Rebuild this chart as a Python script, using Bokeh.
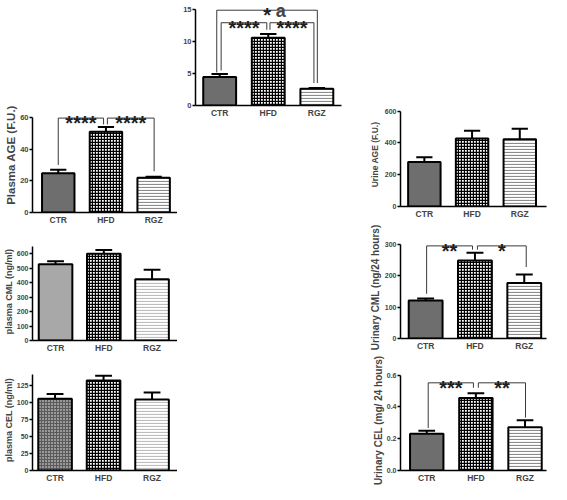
import math
from bokeh.plotting import figure
from bokeh.layouts import row, column
from bokeh.models import Spacer, FixedTicker, NumeralTickFormatter, Label, Range1d
from bokeh.core.properties import value
from bokeh.embed import file_html
from bokeh.resources import INLINE

# ---------------- data ----------------
categories = ["CTR", "HFD", "RGZ"]
xpos = [1, 2, 3]

a_mean = [4.45, 10.55, 2.6]
a_err = [0.45, 0.6, 0.12]
b_mean = [24.8, 51.0, 22.0]
b_err = [2.2, 3.0, 0.6]
c_mean = [528, 600, 424]
c_err = [20, 26, 65]
d_mean = [106, 133, 105]
d_err = [7, 7, 10]
e_mean = [280, 428, 423]
e_err = [30, 48, 65]
f_mean = [121, 248, 176]
f_err = [6, 24, 27]
g_mean = [0.232, 0.456, 0.272]
g_err = [0.018, 0.03, 0.045]

a_ticks = [0, 5, 10, 15]
b_ticks = [0, 20, 40, 60]
c_ticks = [0, 100, 200, 300, 400, 500, 600]
d_ticks = [0, 25, 50, 75, 100, 125]
e_ticks = [0, 200, 400, 600]
f_ticks = [0, 100, 200, 300]
g_ticks = [0.0, 0.2, 0.4, 0.6]

a_ylabel = "AOPP (µmol/l)"
b_ylabel = "Plasma AGE (F.U.)"
c_ylabel = "plasma CML (ng/ml)"
d_ylabel = "plasma CEL (ng/ml)"
e_ylabel = "Urine AGE (F.U.)"
f_ylabel = "Urinary CML  (ng/24 hours)"
g_ylabel = "Urinary CEL  (mg/ 24 hours)"

# significance: (group i, group j, stars, bracket level, leg end at i, leg end at j)
a_sig = [(0, 2, "*", 14.85, 5.15, 3.5), (0, 1, "****", 12.9, 5.45, 11.8), (1, 2, "****", 12.9, 11.8, 3.5)]
b_sig = [(0, 1, "****", 59.6, 30, 55.6), (1, 2, "****", 59.6, 55.6, 26)]
f_sig = [(0, 1, "**", 294, 142, 282), (1, 2, "*", 294, 282, 227)]
g_sig = [(0, 1, "***", 0.552, 0.267, 0.521), (1, 2, "**", 0.552, 0.521, 0.333)]

# ---------------- layout (reference pixel coords, scaled to page) ----------------
S = 0.97
FONT = "Liberation Sans"


def P(v):
    return int(round(S * v))


LAY = {
    "a": dict(fig=(182, 0, 362, 128), frame=(201, 0, 352, 108), ytop=(9, 15), centers=(226, 326.5), bar=34,
              axis_top=15, tick_size="7.5px", ylabel_size="8.5px", lab_stand=0, letter=("a", 284, 11),
              legs=[(-0.06, 0.01), (0.03, -0.03), (0.035, -0.06)]),
    "b": dict(fig=(0, 98, 182, 234), frame=(30, 100, 182, 221), ytop=(121, 60), centers=(57, 157), bar=34,
              axis_top=60, tick_size="7.5px", ylabel_size="11.5px", lab_stand=0, letter=("b", 2, 115),
              legs=[(0.0, -0.05), (0.03, 0.01)]),
    "c": dict(fig=(0, 234, 182, 366), frame=(31, 249, 182, 353), ytop=(261, 600), centers=(55, 155.5), bar=35,
              axis_top=650, tick_size="7px", ylabel_size="9px", lab_stand=0, letter=("c", 4, 252), legs=[]),
    "d": dict(fig=(0, 366, 182, 500), frame=(31, 380, 182, 485), ytop=(397, 125), centers=(54.5, 155.5), bar=35,
              axis_top=142, tick_size="7px", ylabel_size="9px", lab_stand=0, letter=("d", 4, 381), legs=[]),
    "e": dict(fig=(362, 80, 567, 228), frame=(411, 105, 564, 215), ytop=(114, 600), centers=(436, 536), bar=34,
              axis_top=600, tick_size="7px", ylabel_size="8.5px", lab_stand=2, letter=("e", 372, 115), legs=[]),
    "f": dict(fig=(362, 228, 567, 364), frame=(412, 240, 563, 350), ytop=(251, 300), centers=(438, 540), bar=35,
              axis_top=300, tick_size="7px", ylabel_size="10px", lab_stand=1, letter=("f", 373, 241),
              legs=[(0.02, -0.05), (0.05, 0.04)]),
    "g": dict(fig=(362, 364, 567, 500), frame=(410, 378, 563, 485), ytop=(386, 0.6), centers=(437.5, 540.5), bar=35,
              axis_top=0.6, tick_size="7px", ylabel_size="10px", lab_stand=0, letter=("g", 371, 379),
              legs=[(0.03, -0.05), (0.05, 0.01)]),
}

DARK = {"fill_color": "#6e6e6e"}
LIGHT = {"fill_color": "#a8a8a8"}
DTEX = {"fill_color": "#9a9a9a", "hatch_pattern": "cross", "hatch_color": "#5a5a5a", "hatch_scale": 3, "hatch_weight": 1}
HFD = {"fill_color": "white", "hatch_pattern": "cross", "hatch_color": "black", "hatch_scale": 3, "hatch_weight": 1.4}
RGZ = {"fill_color": "white", "hatch_pattern": "horizontal_line", "hatch_color": "#8c8c8c", "hatch_scale": 3, "hatch_weight": 1.2}
RGZL = {"fill_color": "white", "hatch_pattern": "horizontal_line", "hatch_color": "#bdbdbd", "hatch_scale": 3, "hatch_weight": 1.2}


def panel(key, means, errs, ticks, ylabel, fills, sig=(), fmt=None):
    L = LAY[key]
    gx0, gy0, gx1, gy1 = L["fig"]
    fx0, fy0, fx1, fy1 = L["frame"]
    c1, c3 = L["centers"]
    dpx = (c3 - c1) / 2.0
    ytp, ytv = L["ytop"]
    k = (fy1 - ytp) / ytv

    def xd(px):
        return 1 + (px - c1) / dpx

    def yd(py):
        return (fy1 - py) / k

    p = figure(width=P(gx1) - P(gx0), height=P(gy1) - P(gy0),
               x_range=Range1d(xd(fx0), xd(fx1)), y_range=Range1d(0, yd(fy0)),
               min_border_left=P(fx0) - P(gx0), min_border_right=P(gx1) - P(fx1),
               min_border_top=P(fy0) - P(gy0), min_border_bottom=P(gy1) - P(fy1),
               output_backend="svg", toolbar_location=None, tools="")
    p.xgrid.visible = False
    p.ygrid.visible = False
    p.outline_line_color = None
    p.background_fill_color = "white"
    p.border_fill_color = "white"

    bw = L["bar"] / dpx
    for i in range(3):
        p.vbar(x=[xpos[i]], top=[means[i]], bottom=0, width=bw, line_color="black", line_width=2, **fills[i])
    tops = [m + e for m, e in zip(means, errs)]
    p.segment(x0=xpos, y0=means, x1=xpos, y1=tops, line_color="black", line_width=2)
    cap = bw / 4.0
    p.segment(x0=[x - cap for x in xpos], y0=tops, x1=[x + cap for x in xpos], y1=tops,
              line_color="black", line_width=2)

    if sig:
        xs_l, ys_l, tx, ty, tt = [], [], [], [], []
        for (i, j, txt, lvl, ei, ej), (oi, oj) in zip(sig, L["legs"]):
            xa = xpos[i] + oi
            xb = xpos[j] + oj
            xs_l.append([xa, xa, xb, xb])
            ys_l.append([ei, lvl, lvl, ej])
            tx.append((xa + xb) / 2.0)
            ty.append(lvl)
            tt.append(txt)
        p.multi_line(xs=xs_l, ys=ys_l, line_color="#3a3a3a", line_width=1)
        p.text(x=tx, y=ty, text=tt, text_font=value(FONT), text_font_style="bold",
               text_font_size="20px", text_align="center", text_baseline="alphabetic",
               y_offset=5, text_color="#1e1e1e")

    yax = p.yaxis[0]
    yax.ticker = FixedTicker(ticks=ticks)
    yax.bounds = (0, L["axis_top"])
    if fmt:
        yax.formatter = NumeralTickFormatter(format=fmt)
    yax.major_tick_out = 3
    yax.major_tick_in = 0
    yax.minor_tick_out = 0
    yax.minor_tick_in = 0
    yax.major_tick_line_width = 1.5
    yax.axis_line_width = 1.5
    yax.major_label_text_font = FONT
    yax.major_label_text_font_style = "bold"
    yax.major_label_text_font_size = L["tick_size"]
    yax.major_label_standoff = 1
    if key == "a":
        yax.axis_label = None
        p.add_layout(Label(x=xd(186.5), y=yd(59), text=ylabel, angle=math.pi / 2, text_font=FONT,
                           text_font_style="bold", text_font_size=L["ylabel_size"],
                           text_align="center", text_baseline="middle"))
    else:
        yax.axis_label = ylabel
        yax.axis_label_text_font = FONT
        yax.axis_label_text_font_style = "bold"
        yax.axis_label_text_font_size = L["ylabel_size"]
        yax.axis_label_standoff = L["lab_stand"]

    xax = p.xaxis[0]
    xax.ticker = FixedTicker(ticks=xpos)
    xax.major_label_overrides = {x: c for x, c in zip(xpos, categories)}
    xax.major_tick_out = 0
    xax.major_tick_in = 0
    xax.minor_tick_out = 0
    xax.minor_tick_in = 0
    xax.axis_line_width = 1.5
    xax.major_label_text_font = FONT
    xax.major_label_text_font_style = "bold"
    xax.major_label_text_font_size = "8.5px"
    xax.major_label_standoff = 2

    let, lx, ly = L["letter"]
    p.add_layout(Label(x=xd(lx), y=yd(ly), text=let, text_font=FONT, text_font_style="bold",
                       text_font_size="18px", text_align="left", text_baseline="alphabetic"))
    return p


pa = panel("a", a_mean, a_err, a_ticks, a_ylabel, [DARK, HFD, RGZ], a_sig)
pb = panel("b", b_mean, b_err, b_ticks, b_ylabel, [DARK, HFD, RGZ], b_sig)
pc = panel("c", c_mean, c_err, c_ticks, c_ylabel, [LIGHT, HFD, RGZL])
pd_ = panel("d", d_mean, d_err, d_ticks, d_ylabel, [DTEX, HFD, RGZL])
pe = panel("e", e_mean, e_err, e_ticks, e_ylabel, [DARK, HFD, RGZ])
pf = panel("f", f_mean, f_err, f_ticks, f_ylabel, [DARK, HFD, RGZ], f_sig)
pg = panel("g", g_mean, g_err, g_ticks, g_ylabel, [DARK, HFD, RGZ], g_sig, fmt="0.0")

colL = column(Spacer(width=P(182) - P(0), height=P(98) - P(0)), pb, pc, pd_)
colM = column(pa, Spacer(width=P(362) - P(182), height=P(500) - P(128)))
colR = column(Spacer(width=P(567) - P(362), height=P(80) - P(0)), pe, pf, pg)
layout = row(colL, colM, colR)

open("out.html", "w").write(file_html(layout, INLINE))
